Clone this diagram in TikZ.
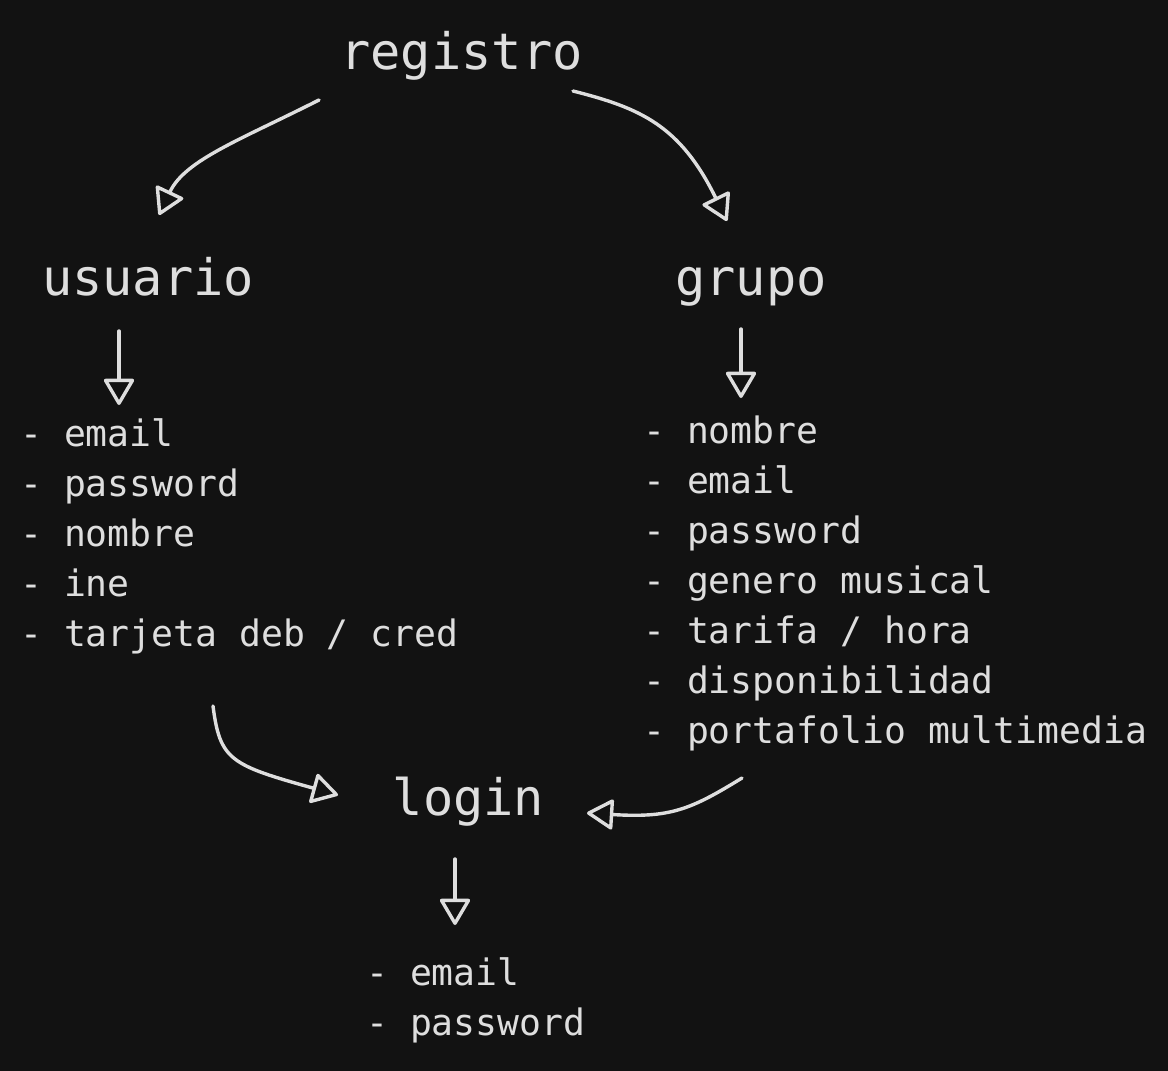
\documentclass[tikz,border=0pt]{standalone}
\usepackage{fontspec}
\setmainfont{DejaVu Sans Mono}
\usetikzlibrary{arrows.meta}
\definecolor{bg}{HTML}{121212}
\definecolor{ink}{HTML}{DEDEDE}
\tikzset{
  title/.style={anchor=base, inner sep=0pt, text=ink, font=\fontsize{50.3}{60}\selectfont},
  item/.style={anchor=base west, inner sep=0pt, text=ink, font=\fontsize{36.4}{50}\selectfont},
  conn/.style={draw=ink, line width=3.4pt, line cap=round, line join=round,
    -{Triangle[open, length=28pt, width=32pt, line width=3.4pt, round]}}
}
\begin{document}
\begin{tikzpicture}[x=1pt, y=-1pt]
\fill[bg] (0,0) rectangle (1168,1071);
\useasboundingbox (0,0) rectangle (1168,1071);

\node[title] (registro) at (461.5,69) {registro};
\node[title] (usuario) at (148,295) {usuario};
\node[title] (grupo) at (751,295) {grupo};
\node[title] (login) at (468.5,815) {login};

% usuario list
\node[item] (u1) at (20,446) {- email};
\node[item] (u2) at (20,496) {- password};
\node[item] (u3) at (20,546) {- nombre};
\node[item] (u4) at (20,596) {- ine};
\node[item] (u5) at (20,646) {- tarjeta deb / cred};

% grupo list
\node[item] (g1) at (643,443) {- nombre};
\node[item] (g2) at (643,493) {- email};
\node[item] (g3) at (643,543) {- password};
\node[item] (g4) at (643,593) {- genero musical};
\node[item] (g5) at (643,643) {- tarifa / hora};
\node[item] (g6) at (643,693) {- disponibilidad};
\node[item] (g7) at (643,743) {- portafolio multimedia};

% login list
\node[item] (l1) at (366,985) {- email};
\node[item] (l2) at (366,1035) {- password};

% connector end points
\coordinate (rA) at (319,100);
\coordinate (uT) at (159,215);
\coordinate (rB) at (573,91);
\coordinate (gT) at (727,221);
\coordinate (uS) at (119,331);
\coordinate (uE) at (119,405);
\coordinate (gS) at (741,329);
\coordinate (gE) at (741,398);
\coordinate (lS) at (455,859);
\coordinate (lE) at (455,925);
\coordinate (ulS) at (213,706);
\coordinate (ulE) at (338,795);
\coordinate (glS) at (742,778);
\coordinate (glE) at (587,813);

\draw[conn] (rA) .. controls (240,140) and (185,160) .. (uT);
\draw[conn] (rB) .. controls (640,108) and (680,125) .. (gT);
\draw[conn] (uS) -- (uE);
\draw[conn] (gS) -- (gE);
\draw[conn] (lS) -- (lE);
\draw[conn] (ulS) .. controls (220,760) and (230,765) .. (ulE);
\draw[conn] (glS) .. controls (690,810) and (670,818) .. (glE);
\end{tikzpicture}
\end{document}
